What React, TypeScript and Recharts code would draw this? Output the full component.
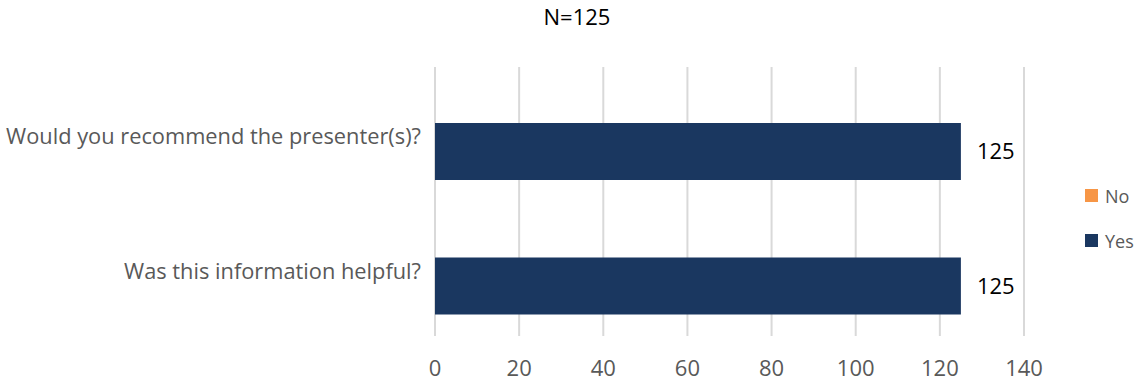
import React from 'react';
import { BarChart, Bar, XAxis, YAxis, CartesianGrid, Legend, LabelList } from 'recharts';

// Survey questions, top to bottom
const questions = ['Would you recommend the presenter(s)?', 'Was this information helpful?'];
const yesCounts = [125, 125];
const noCounts = [0, 0];
const xTicks = [0, 20, 40, 60, 80, 100, 120, 140];
const title = 'N=125';

const seriesInfo = [
  { key: 'no', name: 'No', color: '#F79646' },
  { key: 'yes', name: 'Yes', color: '#1A3760' },
];

const data = questions.map((q, i) => ({ question: q, no: noCounts[i], yes: yesCounts[i] }));

const FONT = "'Open Sans', sans-serif";

const LegendBox = () => (
  <div style={{ fontFamily: FONT }}>
    {seriesInfo.map((s) => (
      <div key={s.key} style={{ display: 'flex', alignItems: 'center', height: 45 }}>
        <span style={{ width: 13, height: 13, background: s.color, display: 'inline-block', marginRight: 7 }} />
        <span style={{ fontSize: 18, color: '#595959', lineHeight: '18px' }}>{s.name}</span>
      </div>
    ))}
  </div>
);

export default function App() {
  return (
    <div style={{ position: 'absolute', left: 0, top: 0, width: 1144, height: 383, background: '#fff', fontFamily: FONT }}>
      <div
        style={{
          position: 'absolute',
          left: 477,
          top: 5,
          width: 200,
          textAlign: 'center',
          fontSize: 22,
          lineHeight: 1,
          color: '#000',
        }}
      >
        {title}
      </div>
      <BarChart
        width={1144}
        height={383}
        data={data}
        layout="vertical"
        barGap={0}
        margin={{ top: 67, right: 120, bottom: 0, left: 0 }}
      >
        <CartesianGrid horizontal={false} stroke="#D9D9D9" strokeWidth={2} />
        <XAxis
          type="number"
          domain={[0, 140]}
          ticks={xTicks}
          axisLine={false}
          tickLine={false}
          tickMargin={18}
          height={47}
          tick={{ fill: '#595959', fontSize: 22, fontFamily: FONT }}
        />
        <YAxis
          type="category"
          dataKey="question"
          width={435}
          axisLine={false}
          tickLine={false}
          tickMargin={8}
          tick={{ fill: '#595959', fontSize: 21.8, fontFamily: FONT, dy: 2.5 }}
        />
        <Legend
          layout="vertical"
          align="center"
          verticalAlign="middle"
          content={<LegendBox />}
          wrapperStyle={{ left: 1085, top: 173, width: 60 }}
        />
        <Bar dataKey="no" name="No" fill="#F79646" barSize={34} isAnimationActive={false} />
        <Bar dataKey="yes" name="Yes" fill="#1A3760" barSize={57} isAnimationActive={false}>
          <LabelList dataKey="yes" position="right" offset={16} fill="#000" fontSize={22} fontFamily={FONT} />
        </Bar>
      </BarChart>
    </div>
  );
}
